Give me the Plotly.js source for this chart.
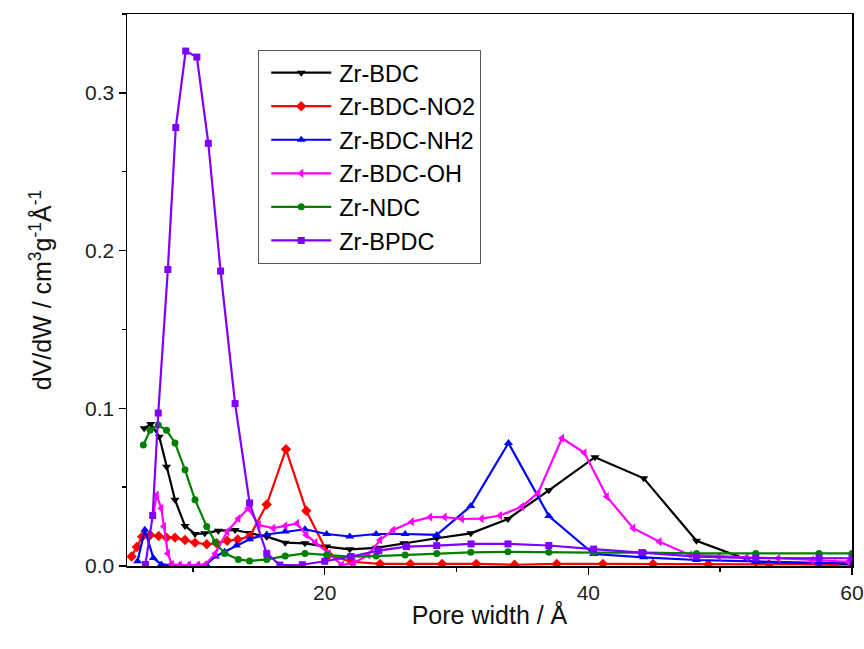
<!DOCTYPE html>
<html>
<head>
<meta charset="utf-8">
<script src="https://cdn.plot.ly/plotly-3.0.1.min.js"></script>
<style>
  html, body { margin: 0; padding: 0; background: #fff; }
  #chart { width: 864px; height: 649px; }
</style>
</head>
<body>
<div id="chart"></div>
<script>
// Pore size distributions (dV/dW, cm3 g-1 Å-1) against pore width (Å)

const seriesNames = ["Zr-BDC", "Zr-BDC-NO2", "Zr-BDC-NH2", "Zr-BDC-OH", "Zr-NDC", "Zr-BPDC"];

const bdcX = [6.3, 6.8, 7.45, 8.0, 8.64, 9.4, 10.16, 10.9, 11.93, 13.2, 14.3, 15.6, 17.0, 18.5, 20.15, 21.9, 23.9, 26.0, 28.5, 31.08, 33.9, 37.0, 40.5, 44.2, 48.2, 52.7, 57.5, 60.0];
const bdcY = [0.0873, 0.090, 0.082, 0.063, 0.042, 0.0254, 0.0203, 0.0207, 0.0224, 0.0228, 0.021, 0.0186, 0.0148, 0.0144, 0.0123, 0.0106, 0.0115, 0.0144, 0.0176, 0.0207, 0.0298, 0.048, 0.069, 0.0556, 0.016, 0.002, 0.001, 0.001];

const no2X = [5.35, 5.75, 6.15, 6.75, 7.4, 8.0, 8.64, 9.4, 10.16, 11.05, 11.8, 12.6, 13.4, 14.3, 15.6, 17.06, 18.6, 20.3, 22.05, 24.2, 26.5, 28.9, 31.5, 34.4, 37.6, 41.1, 44.9, 49.1, 53.7, 58.7];
const no2Y = [0.006, 0.012, 0.0186, 0.0197, 0.019, 0.018, 0.018, 0.0165, 0.0148, 0.0138, 0.0144, 0.0160, 0.0168, 0.0186, 0.039, 0.074, 0.035, 0.007, 0.0027, 0.0013, 0.0013, 0.0013, 0.0013, 0.0008, 0.0013, 0.0013, 0.0013, 0.001, 0.001, 0.001];

const nh2X = [5.8, 6.35, 7.0, 7.6, 8.3, 9.0, 9.7, 10.4, 11.0, 11.7, 12.4, 13.3, 14.3, 15.6, 17.0, 18.5, 20.15, 21.9, 23.9, 26.1, 28.5, 31.08, 33.94, 37.0, 40.4, 44.2, 48.2, 52.7, 57.5, 60.0];
const nh2Y = [0.003, 0.023, 0.005, 0.001, 0.0005, 0.0005, 0.0005, 0.0005, 0.001, 0.006, 0.009, 0.013, 0.017, 0.020, 0.0218, 0.0233, 0.0203, 0.0187, 0.0203, 0.0203, 0.0197, 0.038, 0.078, 0.0317, 0.0076, 0.0055, 0.0038, 0.0027, 0.002, 0.0017];

const ohX = [7.0, 7.25, 7.6, 7.8, 8.1, 8.4, 9.0, 9.7, 10.4, 10.9, 11.7, 12.6, 13.45, 14.2, 15.0, 16.1, 17.0, 17.9, 18.6, 19.3, 20.3, 21.3, 22.2, 23.3, 24.2, 25.2, 26.6, 28.0, 29.1, 30.4, 31.9, 33.3, 34.95, 36.2, 38.0, 39.7, 41.4, 43.4, 45.4, 47.7, 49.9, 52.0, 54.4, 56.95, 59.7];
const ohY = [0.033, 0.045, 0.0366, 0.025, 0.008, 0.001, 0.0005, 0.0005, 0.0005, 0.0005, 0.008, 0.0218, 0.030, 0.0366, 0.026, 0.024, 0.0254, 0.027, 0.0197, 0.0150, 0.008, 0.0006, 0.002, 0.007, 0.0165, 0.0228, 0.028, 0.031, 0.031, 0.0298, 0.030, 0.032, 0.0376, 0.0465, 0.081, 0.0718, 0.044, 0.024, 0.0154, 0.007, 0.006, 0.0055, 0.0049, 0.0038, 0.0027];

const ndcX = [6.24, 6.75, 7.37, 8.0, 8.64, 9.4, 10.16, 11.05, 11.7, 12.4, 13.45, 14.3, 15.6, 17.0, 18.5, 20.15, 21.9, 23.9, 26.1, 28.5, 31.08, 33.9, 37.0, 40.4, 44.2, 48.2, 52.7, 57.5, 60.0];
const ndcY = [0.0767, 0.086, 0.0894, 0.086, 0.078, 0.061, 0.042, 0.025, 0.015, 0.008, 0.0042, 0.0032, 0.0042, 0.0063, 0.008, 0.007, 0.006, 0.0063, 0.007, 0.008, 0.0087, 0.009, 0.0087, 0.0085, 0.0085, 0.008, 0.008, 0.008, 0.008];

const bpdcX = [6.4, 6.95, 7.37, 8.1, 8.7, 9.45, 10.3, 11.17, 12.1, 13.2, 14.3, 15.6, 16.6, 18.3, 20.0, 22.0, 24.1, 26.2, 28.5, 31.1, 33.9, 37.0, 40.4, 44.05, 48.2, 52.7, 57.5, 60.0];
const bpdcY = [0.001, 0.032, 0.097, 0.188, 0.278, 0.3265, 0.3227, 0.268, 0.187, 0.103, 0.040, 0.008, 0.0006, 0.0008, 0.003, 0.006, 0.0097, 0.0123, 0.0129, 0.014, 0.014, 0.013, 0.0107, 0.0085, 0.006, 0.005, 0.005, 0.0049];

const xs = [bdcX, no2X, nh2X, ohX, ndcX, bpdcX];
const ys = [bdcY, no2Y, nh2Y, ohY, ndcY, bpdcY];
const colors = ["#000000", "#ff0000", "#0000ff", "#ff00ff", "#008000", "#7f00ff"];
const symbols = ["triangle-down", "diamond", "triangle-up", "triangle-left", "circle", "square"];
const sizes = [8, 8, 8, 8, 7, 7];

const traces = seriesNames.map((name, i) => ({
  type: "scatter",
  mode: "lines+markers",
  name: name,
  x: xs[i],
  y: ys[i],
  line: { color: colors[i], width: 2.2 },
  marker: { color: colors[i], symbol: symbols[i], size: sizes[i] }
}));

const font = "Liberation Sans, Arial, sans-serif";

const layout = {
  width: 864,
  height: 649,
  margin: { l: 127, r: 12, t: 14, b: 83 },
  paper_bgcolor: "#ffffff",
  plot_bgcolor: "#ffffff",
  font: { family: font, color: "#222" },
  showlegend: true,
  legend: {
    x: 0.181, y: 0.935, xanchor: "left", yanchor: "top",
    bgcolor: "#ffffff",
    bordercolor: "#555",
    borderwidth: 1,
    itemwidth: 70,
    font: { family: font, size: 23.5, color: "#000" },
    tracegroupgap: 0
  },
  xaxis: {
    range: [5, 60],
    tick0: 0, dtick: 20,
    ticks: "outside", ticklen: 7, tickwidth: 1.5, tickcolor: "#000",
    minor: { dtick: 10, tick0: 0, ticks: "outside", ticklen: 4, tickwidth: 1.5, tickcolor: "#000" },
    showline: true, linecolor: "#000", linewidth: 1.5, mirror: true,
    showgrid: false, zeroline: false,
    tickfont: { family: font, size: 21, color: "#222" },
    title: { text: "Pore width / Å", font: { family: font, size: 25, color: "#111" }, standoff: 4 }
  },
  yaxis: {
    range: [0, 0.35],
    tick0: 0, dtick: 0.1, tickformat: ".1f",
    ticks: "outside", ticklen: 7, tickwidth: 1.5, tickcolor: "#000",
    minor: { dtick: 0.05, tick0: 0, ticks: "outside", ticklen: 4, tickwidth: 1.5, tickcolor: "#000" },
    showline: true, linecolor: "#000", linewidth: 1.5, mirror: true,
    showgrid: false, zeroline: false,
    tickfont: { family: font, size: 21, color: "#222" },
    title: { text: "dV/dW / cm<sup>3</sup>g<sup>-1</sup>Å<sup>-1</sup>", font: { family: font, size: 25, color: "#111" }, standoff: 26 }
  }
};

Plotly.newPlot("chart", traces, layout, { displayModeBar: false, staticPlot: true }).then(gd => {
  // Longer sample lines in the legend, marker centred on each line
  gd.querySelectorAll(".legend .legendlines path").forEach(p => p.setAttribute("d", "M12,0h60"));
  gd.querySelectorAll(".legend .legendsymbols path.scatterpts").forEach(p => p.setAttribute("transform", "translate(42,0)"));
});
</script>
</body>
</html>
